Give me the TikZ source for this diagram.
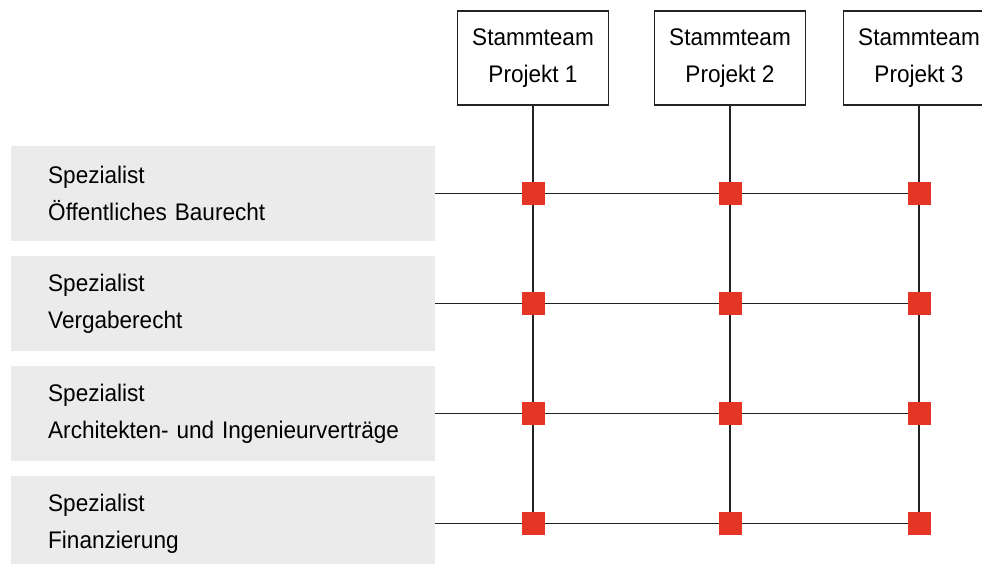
\documentclass[tikz,border=0pt]{standalone}
\usepackage{fontspec}
\setmainfont[FakeStretch=0.94]{Liberation Sans}
\usetikzlibrary{positioning}
\definecolor{signalred}{RGB}{229, 53, 39}
\definecolor{panelgrey}{RGB}{235, 235, 235}
\definecolor{wire}{RGB}{35, 35, 35}

\begin{document}
\begin{tikzpicture}[x=1pt, y=-1pt,
        team/.style={draw=wire, line width=1.2pt, fill=white, minimum width=151pt,
                     minimum height=94pt, align=center, font=\fontsize{24}{37}\selectfont},
        spec/.style={fill=panelgrey, minimum width=424pt, minimum height=95pt, text width=350pt,
                     inner xsep=37pt, align=left, anchor=north west, font=\fontsize{24}{37}\selectfont},
        knot/.style={fill=signalred, minimum size=23pt, inner sep=0pt},
        link/.style={draw=wire, line width=1.2pt}]
    \useasboundingbox (0,0) rectangle (982,564);
    \clip (0,0) rectangle (982,564);
    % Stammteams
    \node[team] (t1) at (533, 58) {Stammteam\\Projekt 1};
    \node[team] (t2) at (730, 58) {Stammteam\\Projekt 2};
    \node[team] (t3) at (919, 58) {Stammteam\\Projekt 3};
    % Spezialisten
    \node[spec] (s1) at (11, 146) {Spezialist\\Öffentliches Baurecht};
    \node[spec] (s2) at (11, 256) {Spezialist\\Vergaberecht};
    \node[spec] (s3) at (11, 366) {Spezialist\\\mbox{Architekten- und Ingenieurverträge}};
    \node[spec] (s4) at (11, 476) {Spezialist\\Finanzierung};
    % Matrix lines
    \foreach \j in {1,...,4}
        \draw[link] (s\j.east) -- (t3 |- s\j.east);
    \foreach \i in {1,2,3}
        \draw[link] (t\i.south) -- (t\i |- s4.east);
    % Crossing points
    \foreach \i in {1,2,3}
        \foreach \j in {1,...,4}
            \node[knot] (k\i\j) at (t\i |- s\j.east) {};
\end{tikzpicture}
\end{document}
